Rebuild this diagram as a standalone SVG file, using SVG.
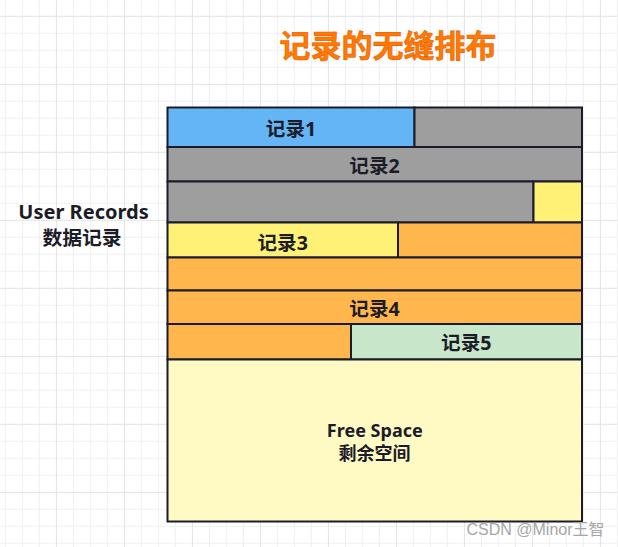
<svg xmlns="http://www.w3.org/2000/svg" width="618" height="547" viewBox="0 0 618 547">
  <defs>
    <pattern id="grid" patternUnits="userSpaceOnUse" x="55.9" y="15.8" width="68" height="68">
      <rect x="0" y="0" width="68" height="68" fill="#ffffff"/>
      <g fill="#f0f0f0">
        <rect x="17" y="0" width="1" height="68"/>
        <rect x="34" y="0" width="1" height="68"/>
        <rect x="51" y="0" width="1" height="68"/>
        <rect x="0" y="17" width="68" height="1"/>
        <rect x="0" y="34" width="68" height="1"/>
        <rect x="0" y="51" width="68" height="1"/>
      </g>
      <g fill="#e2e2e2">
        <rect x="0" y="0" width="1" height="68"/>
        <rect x="0" y="0" width="68" height="1"/>
      </g>
    </pattern>
  </defs>
  <style>
    .cell { stroke: #1b1b2b; stroke-width: 2; }
    .blue { fill: #64b5f6; }
    .gray { fill: #9e9e9e; }
    .yellow { fill: #fff176; }
    .orange { fill: #ffb74d; }
    .green { fill: #c8e6c9; }
    .free { fill: #fff9c4; }
    .lbl { font-family: "Noto Sans", "Noto Sans CJK SC", sans-serif; font-weight: bold; font-size: 19.6px; fill: #1c1c28; text-anchor: middle; }
    .side { font-family: "Noto Sans", "Noto Sans CJK SC", sans-serif; font-weight: bold; fill: #1c1c28; text-anchor: middle; }
    .title { font-family: "Noto Sans CJK SC", sans-serif; font-weight: bold; font-size: 31px; fill: #ff7a00; stroke: #e85a00; stroke-width: 0.6; text-anchor: middle; }
    .mark { font-family: "Liberation Sans", "Noto Sans CJK SC", sans-serif; font-size: 16px; fill: #a6a6a6; }
  </style>

  <rect x="0" y="0" width="618" height="547" fill="url(#grid)"/>

  <text class="title" x="388" y="57">记录的无缝排布</text>

  <g id="user-records-label">
    <text class="side" x="83.5" y="219.3" font-size="20">User Records</text>
    <text class="side" x="82" y="244.8" font-size="19.8">数据记录</text>
  </g>

  <g id="record1">
    <rect class="cell blue" x="167.5" y="107.5" width="247" height="39.5"/>
    <text class="lbl" x="291" y="136.2">记录1</text>
  </g>
  <g id="gap1">
    <rect class="cell gray" x="414.5" y="107.5" width="167.5" height="39.5"/>
  </g>
  <g id="record2">
    <rect class="cell gray" x="167.5" y="147" width="414.5" height="34.5"/>
    <text class="lbl" x="374.5" y="173">记录2</text>
  </g>
  <g id="record2-tail">
    <rect class="cell gray" x="167.5" y="181.5" width="366" height="41"/>
  </g>
  <g id="record3-head">
    <rect class="cell yellow" x="533.5" y="181.5" width="48.5" height="41"/>
  </g>
  <g id="record3">
    <rect class="cell yellow" x="167.5" y="222.5" width="230.5" height="35"/>
    <text class="lbl" x="282.7" y="249.5">记录3</text>
  </g>
  <g id="record4-head">
    <rect class="cell orange" x="398" y="222.5" width="184" height="35"/>
  </g>
  <g id="record4-mid">
    <rect class="cell orange" x="167.5" y="257.5" width="414.5" height="33"/>
  </g>
  <g id="record4">
    <rect class="cell orange" x="167.5" y="290.5" width="414.5" height="33.5"/>
    <text class="lbl" x="374.5" y="315.7">记录4</text>
  </g>
  <g id="record4-tail">
    <rect class="cell orange" x="167.5" y="324" width="183.5" height="35.5"/>
  </g>
  <g id="record5">
    <rect class="cell green" x="351" y="324" width="231" height="35.5"/>
    <text class="lbl" x="466.3" y="350.2">记录5</text>
  </g>
  <g id="free-space">
    <rect class="cell free" x="167.5" y="359.5" width="414.5" height="162"/>
    <text class="side" x="374.8" y="436.7" font-size="18">Free Space</text>
    <text class="side" x="374.5" y="459.5" font-size="18">剩余空间</text>
  </g>

  <g id="connectors"></g>

  <text class="mark" x="466.5" y="535">CSDN @Minor王智</text>
</svg>
